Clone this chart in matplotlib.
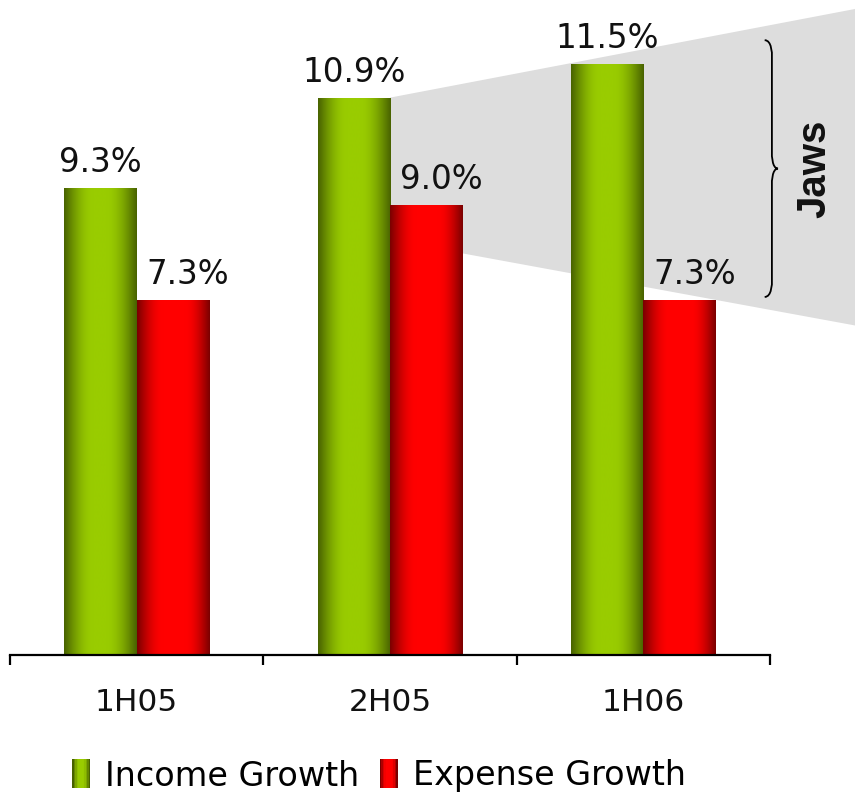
import numpy as np
import matplotlib
matplotlib.use("Agg")
import matplotlib.pyplot as plt
from matplotlib.patches import Polygon, Rectangle, PathPatch
from matplotlib.path import Path
from matplotlib.legend_handler import HandlerBase
from matplotlib.font_manager import FontProperties, fontManager
import matplotlib.transforms as mtransforms

# ---- data ----
periods = ["1H05", "2H05", "1H06"]
income_growth = [9.3, 10.9, 11.5]
expense_growth = [7.3, 9.0, 7.3]
series_names = ["Income Growth", "Expense Growth"]

GREEN_DARK = np.array([72, 98, 0]) / 255
GREEN_LIGHT = np.array([153, 204, 0]) / 255
RED_DARK = np.array([122, 0, 0]) / 255
RED_LIGHT = np.array([255, 0, 0]) / 255


def gradient_strip(dark, light, rise, fall, n=200):
    t = np.linspace(0, 1, n)
    f = np.where(t < rise, t / rise,
                 np.where(t > fall, (1 - t) / (1 - fall), 1.0))
    f = np.sin(np.clip(f, 0, 1) * np.pi / 2)
    rgb = dark[None, :] + (light - dark)[None, :] * f[:, None]
    return rgb[None, :, :]


def bold_sans(size):
    # pick the regular-width bold Liberation Sans file explicitly
    for f in fontManager.ttflist:
        if (f.name == "Liberation Sans" and f.weight in (700, "bold")
                and f.style == "normal"):
            return FontProperties(fname=f.fname, size=size)
    return FontProperties(family="DejaVu Sans", weight="bold", size=size)


green_img = gradient_strip(GREEN_DARK, GREEN_LIGHT, 0.40, 0.58)
red_img = gradient_strip(RED_DARK, RED_LIGHT, 0.36, 0.66)

W, H = 855, 794
fig = plt.figure(figsize=(W / 100, H / 100), dpi=100)
ax = fig.add_axes([10 / W, 139 / H, 760 / W, 655 / H])
YMIN, YMAX = 1.0, 1.0 + 655 / 56.3

x = np.arange(len(periods))
bw = 0.285

# grey "jaws" wedge behind the bars
jaws = Polygon([[1.0, income_growth[1]], [2.9, 12.53],
                [2.9, 6.80], [1.0, 8.37]],
               closed=True, facecolor="#dddddd", edgecolor="none",
               zorder=0, clip_on=False)
ax.add_patch(jaws)

bars_inc = ax.bar(x - bw / 2, income_growth, bw, color=GREEN_LIGHT, zorder=2)
bars_exp = ax.bar(x + bw / 2, expense_growth, bw, color=RED_LIGHT, zorder=2)

# cylindrical shading on each bar
for bars, img in ((bars_inc, green_img), (bars_exp, red_img)):
    for b in bars:
        x0 = b.get_x()
        top = b.get_y() + b.get_height()
        im = ax.imshow(img, extent=[x0, x0 + b.get_width(), YMIN, top],
                       aspect="auto", zorder=3, interpolation="bilinear")
        im.set_clip_path(b)
ax.set_xlim(-0.5, 2.5)
ax.set_ylim(YMIN, YMAX)

label_kw = dict(textcoords="offset points", ha="center", va="baseline",
                fontsize=23.5, color="#111111", family="DejaVu Sans")
for b, v in zip(bars_inc, income_growth):
    ax.annotate(f"{v:.1f}%", (b.get_x() + b.get_width() / 2, v),
                xytext=(0, 11.5), **label_kw)
for b, v in zip(bars_exp, expense_growth):
    ax.annotate(f"{v:.1f}%", (b.get_x() + b.get_width() / 2, v),
                xytext=(10.8, 11.5), **label_kw)

# axes styling
for s in ("left", "right", "top"):
    ax.spines[s].set_visible(False)
ax.spines["bottom"].set_linewidth(1.6)
ax.spines["bottom"].set_zorder(4)
ax.set_yticks([])
ax.set_xticks(x)
ax.set_xticklabels(periods, fontsize=22.5, color="#111111")
ax.tick_params(axis="x", which="major", length=0, pad=24)
ax.set_xticks(np.arange(-0.5, len(periods)), minor=True)
ax.tick_params(axis="x", which="minor", length=7.5, width=1.6, direction="out")

# brace marking the gap
tb = mtransforms.blended_transform_factory(ax.transAxes, ax.transData)
ytop, ybot = 11.92, min(expense_growth) + 0.06
ymid = (ytop + ybot) / 2
xa, xb, xt = 0.993, 1.0025, 1.0105
d = 0.25
verts = [(xa, ytop), (xb, ytop), (xb, ytop - d), (xb, ytop - d),
         (xb, ymid + d), (xb, ymid + d), (xb, ymid), (xt, ymid),
         (xb, ymid), (xb, ymid - d), (xb, ymid - d),
         (xb, ybot + d), (xb, ybot + d), (xb, ybot), (xa, ybot)]
codes = [Path.MOVETO, Path.CURVE4, Path.CURVE4, Path.CURVE4,
         Path.LINETO, Path.CURVE4, Path.CURVE4, Path.CURVE4,
         Path.CURVE4, Path.CURVE4, Path.CURVE4,
         Path.LINETO, Path.CURVE4, Path.CURVE4, Path.CURVE4]
ax.add_patch(PathPatch(Path(verts, codes), transform=tb, facecolor="none",
                       edgecolor="black", lw=1.3, clip_on=False, zorder=5))
ax.text(1.0585, ymid, "Jaws", transform=tb, rotation=90, ha="center",
        va="center", fontproperties=bold_sans(29), color="#111111")


class GradientHandler(HandlerBase):
    def __init__(self, img):
        super().__init__()
        self.img = img[0]

    def create_artists(self, legend, orig_handle, xdescent, ydescent,
                       width, height, fontsize, trans):
        n = 12
        cols = self.img[np.linspace(0, len(self.img) - 1, n).astype(int)]
        arts = []
        for i, c in enumerate(cols):
            r = Rectangle((-xdescent + i * width / n, -ydescent - 2),
                          width / n + 0.05, height + 4, facecolor=c,
                          edgecolor="none", transform=trans)
            arts.append(r)
        return arts


h_inc = Rectangle((0, 0), 1, 1)
h_exp = Rectangle((0, 0), 1, 1)
fig.legend([h_inc, h_exp], series_names, loc="center",
           bbox_to_anchor=(379 / W, 1 - 776 / H), ncol=2, frameon=False,
           fontsize=24, handlelength=0.55, handletextpad=0.45,
           columnspacing=0.6,
           handler_map={h_inc: GradientHandler(green_img),
                        h_exp: GradientHandler(red_img)})

fig.savefig("out.png", dpi=100)
